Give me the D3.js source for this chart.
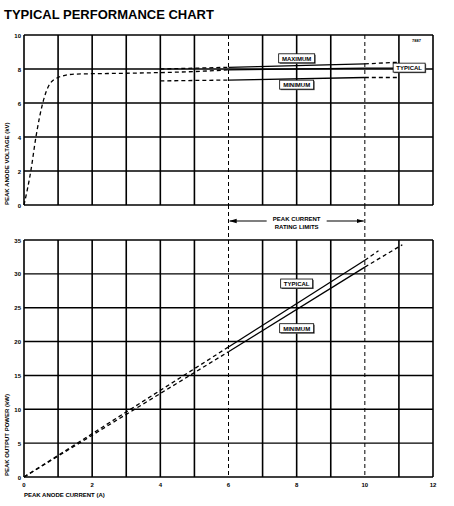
<!DOCTYPE html>
<html><head><meta charset="utf-8">
<script src="https://cdn.jsdelivr.net/npm/d3@7"></script>
<style>body{margin:0;background:#fff}text{font-family:"Liberation Sans",Arial,sans-serif;font-weight:bold}</style>
</head><body><svg id="c" width="454" height="506"></svg>
<script>
// data
var voltTicks = [0, 2, 4, 6, 8, 10];
var powerTicks = [0, 5, 10, 15, 20, 25, 30, 35];
var currentTicks = [0, 2, 4, 6, 8, 10, 12];
var voltRise = [[0,0],[0.2,2],[0.35,4],[0.55,6],[0.75,7.1],[1,7.5],[1.5,7.7],[3,7.75],[5,7.85],[6,7.95]];
var voltTypical = [[6,7.95],[10,8.05],[11.6,8.05]];
var voltMaxDash = [[4,8.0],[6,8.1]], voltMax = [[6,8.1],[10,8.3]], voltMaxEnd = [[10,8.3],[11,8.4]];
var voltMinDash = [[4,7.3],[6,7.35]], voltMin = [[6,7.35],[10,7.5]], voltMinEnd = [[10,7.5],[11,7.5]];
var powTypDash = [[0,0],[6,19.2]], powTyp = [[6,19.2],[10,32]], powTypEnd = [[10,32],[10.4,33.4]];
var powMinDash = [[0,0],[6,18.5]], powMin = [[6,18.5],[10,31]], powMinEnd = [[10,31],[11.1,34.3]];
var limits = [6, 10];

var svg = d3.select('#c');
var x = d3.scaleLinear().domain([0, 12]).range([24, 433]);
var yV = d3.scaleLinear().domain([0, 10]).range([205, 35]);
var yP = d3.scaleLinear().domain([0, 35]).range([477, 240]);

svg.append('text').attr('x', 4).attr('y', 19).attr('font-size', 13).text('TYPICAL PERFORMANCE CHART');

function grid(y, ticks) {
  var g = svg.append('g');
  g.selectAll('line.v').data(d3.range(0, 13)).join('line')
    .attr('x1', d => x(d)).attr('x2', d => x(d))
    .attr('y1', y.range()[1]).attr('y2', y.range()[0])
    .attr('stroke', '#000').attr('stroke-width', d => (d == 6 || d == 10) ? 1 : 1.6)
    .attr('stroke-dasharray', d => (d == 6 || d == 10) ? '4,3' : null);
  g.selectAll('line.h').data(ticks).join('line')
    .attr('x1', x(0)).attr('x2', x(12)).attr('y1', d => y(d)).attr('y2', d => y(d))
    .attr('stroke', '#000').attr('stroke-width', 1.4);
  g.selectAll('text').data(ticks).join('text')
    .attr('x', x(0) - 3).attr('y', d => y(d) + 2.5).attr('text-anchor', 'end')
    .attr('font-size', 6).text(d => d);
}
grid(yV, voltTicks);
grid(yP, powerTicks);

svg.append('g').selectAll('text').data(currentTicks).join('text')
  .attr('x', d => x(d)).attr('y', 487).attr('text-anchor', 'middle').attr('font-size', 6).text(d => d);
svg.append('text').attr('x', 24).attr('y', 497).attr('font-size', 6).text('PEAK ANODE CURRENT (A)');
svg.append('text').attr('transform', 'translate(9,205) rotate(-90)').attr('font-size', 6).text('PEAK ANODE VOLTAGE (kV)');
svg.append('text').attr('transform', 'translate(9,476) rotate(-90)').attr('font-size', 6).text('PEAK OUTPUT POWER (kW)');
svg.append('text').attr('x', 412).attr('y', 42).attr('font-size', 4).text('7887');

// rating limit dashed connectors and arrow
svg.selectAll('line.lim').data(limits).join('line')
  .attr('x1', d => x(d)).attr('x2', d => x(d)).attr('y1', yV(0)).attr('y2', yP(35))
  .attr('stroke', '#000').attr('stroke-dasharray', '4,3');
var defs = svg.append('defs');
defs.append('marker').attr('id', 'ar').attr('viewBox', '0 0 10 10').attr('refX', 10).attr('refY', 5)
  .attr('markerWidth', 6).attr('markerHeight', 6).attr('orient', 'auto-start-reverse')
  .append('path').attr('d', 'M0,2L10,5L0,8z');
svg.append('line').attr('x1', x(6) + 1).attr('x2', x(8) - 30).attr('y1', 221).attr('y2', 221)
  .attr('stroke', '#000').attr('stroke-width', 1.2).attr('marker-start', 'url(#ar)');
svg.append('line').attr('x1', x(8) + 30).attr('x2', x(10) - 1).attr('y1', 221).attr('y2', 221)
  .attr('stroke', '#000').attr('stroke-width', 1.2).attr('marker-end', 'url(#ar)');
svg.append('text').attr('x', x(8)).attr('y', 221).attr('text-anchor', 'middle').attr('font-size', 6).text('PEAK CURRENT');
svg.append('text').attr('x', x(8)).attr('y', 229).attr('text-anchor', 'middle').attr('font-size', 6).text('RATING LIMITS');

function curve(data, y, dashed) {
  svg.append('path').datum(data)
    .attr('d', d3.line().x(d => x(d[0])).y(d => y(d[1])).curve(dashed === 'smooth' ? d3.curveMonotoneX : d3.curveLinear))
    .attr('fill', 'none').attr('stroke', '#000').attr('stroke-width', 1.3)
    .attr('stroke-dasharray', dashed ? '4,3' : null);
}
curve(voltRise, yV, 'smooth');
curve(voltTypical, yV, false);
curve(voltMaxDash, yV, true); curve(voltMax, yV, false); curve(voltMaxEnd, yV, true);
curve(voltMinDash, yV, true); curve(voltMin, yV, false); curve(voltMinEnd, yV, true);
curve(powTypDash, yP, true); curve(powTyp, yP, false); curve(powTypEnd, yP, true);
curve(powMinDash, yP, true); curve(powMin, yP, false); curve(powMinEnd, yP, true);

function label(txt, cx, cy, w) {
  var g = svg.append('g');
  g.append('rect').attr('x', cx - w / 2 + 1).attr('y', cy - 4).attr('width', w).attr('height', 9).attr('fill', '#555');
  g.append('rect').attr('x', cx - w / 2).attr('y', cy - 5).attr('width', w).attr('height', 9)
    .attr('fill', '#fff').attr('stroke', '#000').attr('stroke-width', 0.8);
  g.append('text').attr('x', cx).attr('y', cy + 2).attr('text-anchor', 'middle').attr('font-size', 6).text(txt);
}
label('MAXIMUM', x(8), yV(8.6), 36);
label('MINIMUM', x(8), yV(7.05), 34);
label('TYPICAL', x(11.3), yV(8.05), 32);
label('TYPICAL', x(8), yP(28.5), 32);
label('MINIMUM', x(8), yP(21.9), 34);
</script></body></html>
